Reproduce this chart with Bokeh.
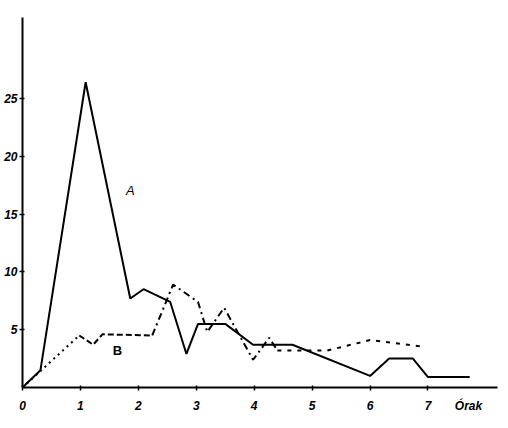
from bokeh.plotting import figure
from bokeh.models import FixedTicker, Label
from bokeh.embed import file_html
from bokeh.resources import INLINE

# hours (x) and values (y)
a_hours = [0, 0.31, 1.09, 1.86, 2.09, 2.55, 2.83, 3.03, 3.50, 3.98, 4.66, 6.00, 6.33, 6.74, 7.00, 7.72]
a_vals = [0, 1.5, 26.4, 7.7, 8.5, 7.4, 2.9, 5.5, 5.5, 3.7, 3.7, 1.0, 2.5, 2.5, 0.9, 0.9]

b_hours = [0, 0.98, 1.22, 1.38, 2.24, 2.60, 3.03, 3.19, 3.48, 3.98, 4.26, 4.40, 5.26, 6.00, 6.95]
b_vals = [0, 4.5, 3.7, 4.6, 4.5, 8.9, 7.4, 4.8, 6.9, 2.4, 4.3, 3.2, 3.2, 4.1, 3.5]

x_ticks = [0, 1, 2, 3, 4, 5, 6, 7]
y_ticks = [5, 10, 15, 20, 25]
x_unit = "Órak"
x_unit_pos = 7.7

FONT = "Liberation Sans"

p = figure(width=500, height=420, output_backend="svg", toolbar_location=None,
           x_range=(0, 8.2), y_range=(0, 32),
           min_border_left=22, min_border_right=3, min_border_top=17, min_border_bottom=33)
p.outline_line_color = None
p.xgrid.visible = False
p.ygrid.visible = False
p.background_fill_color = "white"

for ax in (p.xaxis[0], p.yaxis[0]):
    ax.axis_line_width = 2
    ax.axis_line_color = "black"
    ax.major_tick_in = 2
    ax.major_tick_out = 3
    ax.major_tick_line_width = 1.5
    ax.minor_tick_line_color = None
    ax.major_label_text_font = FONT
    ax.major_label_text_font_style = "bold italic"
    ax.major_label_text_font_size = "12px"
    ax.major_label_text_color = "black"

p.yaxis.ticker = FixedTicker(ticks=y_ticks)
p.yaxis.major_label_standoff = 2

# x axis: labels at the hours plus the unit; marks drawn as minor ticks at the hours only
p.xaxis.ticker = FixedTicker(ticks=x_ticks + [x_unit_pos], minor_ticks=x_ticks)
p.xaxis.major_label_overrides = {x_unit_pos: x_unit}
p.xaxis.major_tick_line_color = None
p.xaxis.major_tick_in = 0
p.xaxis.major_tick_out = 3
p.xaxis.minor_tick_line_color = "black"
p.xaxis.minor_tick_line_width = 1.5
p.xaxis.minor_tick_in = 2
p.xaxis.minor_tick_out = 3
p.xaxis.major_label_standoff = 8

# A: solid
p.line(a_hours, a_vals, line_color="black", line_width=2)

# B: dotted start, dashed plateau, dash-dot afterwards
segments = [(0, 2, "2 4"), (1, 5, "6 3"), (4, 12, "7 4 2 4"), (11, 15, "4 6")]
for i0, i1, dash in segments:
    p.line(b_hours[i0:i1], b_vals[i0:i1], line_color="black", line_width=2, line_dash=dash)

p.add_layout(Label(x=1.86, y=17.0, text="A", text_font=FONT, text_font_size="13px",
                   text_font_style="italic", text_color="black",
                   text_align="center", text_baseline="middle"))
p.add_layout(Label(x=1.64, y=3.2, text="B", text_font=FONT, text_font_size="13px",
                   text_font_style="bold", text_color="black",
                   text_align="center", text_baseline="middle"))

open("out.html", "w").write(file_html(p, INLINE))
